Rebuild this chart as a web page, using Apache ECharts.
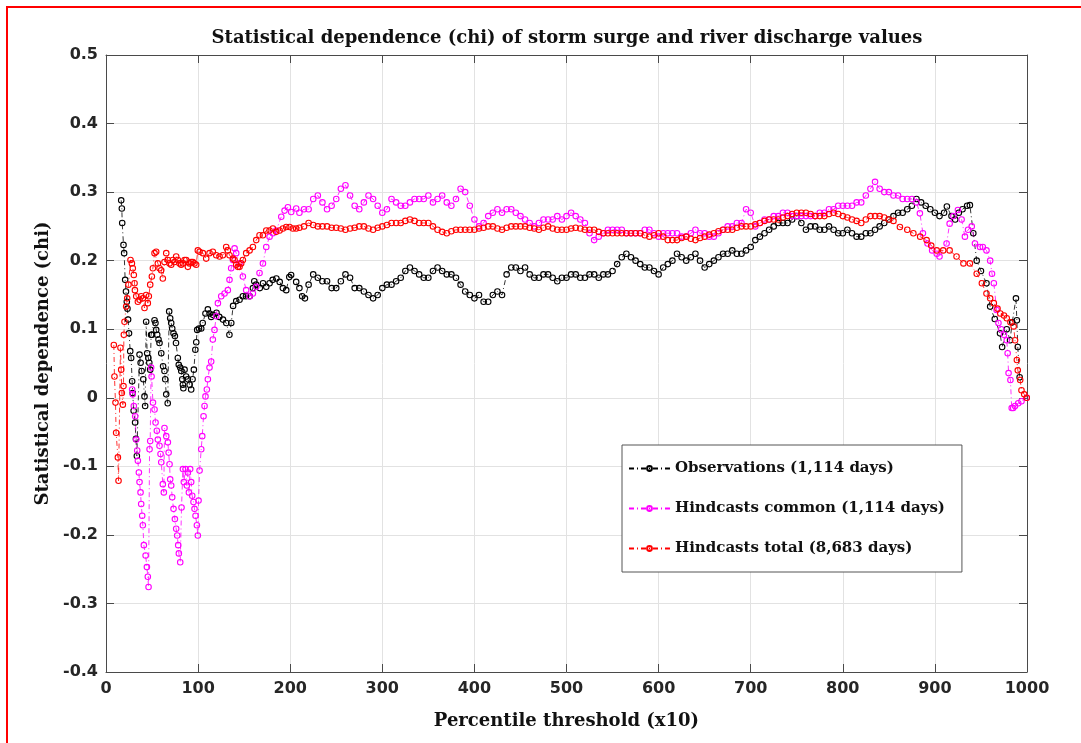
<!DOCTYPE html>
<html>
<head>
<meta charset="utf-8">
<title>Statistical dependence (chi)</title>
<script src="https://cdn.jsdelivr.net/npm/echarts@6/dist/echarts.min.js"></script>
<style>
  html, body { margin: 0; padding: 0; background: #fff; }
  #chart { width: 1081px; height: 743px; }
</style>
</head>
<body>
<div id="chart"></div>
<script>
// Percentile threshold (x10) vs chi, one [x, chi] pair per point
const observations = [
  [16.5,.288],[17.2,.276],[17.6,.255],[19,.223],[19.7,.211],[20.8,.172],[21.7,.155],[22.6,.14],[23.3,.13],[24,.114],
  [25,.094],[26.3,.068],[27.3,.058],[28.4,.024],[29,.007],[30,-.019],[31.6,-.036],[32.5,-.06],[33.5,-.085],[36.4,.063],
  [37.6,.051],[38.7,.039],[40.5,.027],[41.8,.002],[42.5,-.012],[43.6,.111],[44.7,.065],[46,.058],[47,.051],[48,.041],
  [49,.092],[50,.092],[52.7,.113],[53.7,.109],[54.5,.099],[55.6,.092],[57,.085],[58.1,.08],[60,.065],[62,.046],
  [63.5,.039],[64.3,.027],[65.4,.005],[67,-.008],[68.6,.126],[69.7,.116],[70.8,.109],[71.9,.101],[73.3,.094],[74.8,.09],
  [76,.08],[78,.058],[79,.048],[80.6,.044],[81.7,.039],[82.8,.027],[83.5,.019],[84,.014],[85.3,.041],[87,.031],
  [89,.027],[90.8,.019],[92.5,.012],[94,.027],[95.4,.041],[97,.07],[98,.081],[99,.099],[101,.101],[103.4,.101],
  [105,.109],[108,.123],[110.6,.129],[112.4,.123],[114.2,.118],[116,.121],[120,.124],[123,.118],[127,.114],[130.6,.109],
  [134,.092],[136,.109],[138,.134],[141.4,.141],[145,.143],[148.6,.148],[152,.148],[156,.148],[159.5,.16],[161,.17],
  [163,.165],[167,.16],[170.5,.167],[174,.162],[177.6,.167],[181,.172],[185,.174],[188.6,.169],[192,.16],[195.7,.157],
  [199,.176],[201,.179],[206.5,.169],[210,.16],[213,.148],[216,.145],[220,.165],[225,.18],[230,.175],[235,.17],
  [240,.17],[245,.16],[250,.16],[255,.17],[260,.18],[265,.175],[270,.16],[275,.16],[280,.155],[285,.15],
  [290,.145],[295,.15],[300,.16],[305,.165],[310,.165],[315,.17],[320,.175],[325,.185],[330,.19],[335,.185],
  [340,.18],[345,.175],[350,.175],[355,.185],[360,.19],[365,.185],[370,.18],[375,.18],[380,.175],[385,.165],
  [390,.155],[395,.15],[400,.145],[405,.15],[410,.14],[415,.14],[420,.15],[425,.155],[430,.15],[435,.18],
  [440,.19],[445,.19],[450,.185],[455,.19],[460,.18],[465,.175],[470,.175],[475,.18],[480,.18],[485,.175],
  [490,.17],[495,.175],[500,.175],[505,.18],[510,.18],[515,.175],[520,.175],[525,.18],[530,.18],[535,.175],
  [540,.18],[545,.18],[550,.185],[555,.195],[560,.205],[565,.21],[570,.205],[575,.2],[580,.195],[585,.19],
  [590,.19],[595,.185],[600,.18],[605,.19],[610,.195],[615,.2],[620,.21],[625,.205],[630,.2],[635,.205],
  [640,.21],[645,.2],[650,.19],[655,.195],[660,.2],[665,.205],[670,.21],[675,.21],[680,.215],[685,.21],
  [690,.21],[695,.215],[700,.22],[705,.23],[710,.235],[715,.24],[720,.245],[725,.25],[730,.255],[735,.255],
  [740,.255],[745,.26],[750,.265],[755,.255],[760,.245],[765,.25],[770,.25],[775,.245],[780,.245],[785,.25],
  [790,.245],[795,.24],[800,.24],[805,.245],[810,.24],[815,.235],[820,.235],[825,.24],[830,.24],[835,.245],
  [840,.25],[845,.255],[850,.26],[855,.265],[860,.27],[865,.27],[870,.275],[875,.28],[880,.29],[885,.285],
  [890,.28],[895,.275],[900,.27],[905,.265],[910,.27],[913,.279],[918,.265],[922,.26],[926,.27],[930,.275],
  [935,.28],[938,.281],[941.7,.24],[945.4,.2],[950,.185],[956,.167],[960,.133],[965,.115],[970.7,.094],[973,.074],
  [978,.1],[981.6,.084],[984,.11],[988,.145],[989,.113],[990,.074],[992,.03]
];

const hindcastsCommon = [
  [28.4,.012],[29,.005],[30.2,-.012],[31.7,-.027],[32.8,-.061],[33.9,-.077],[34.6,-.092],[35.7,-.109],[36.4,-.123],[37.5,-.138],
  [38.2,-.155],[39.3,-.172],[40,-.186],[41.1,-.215],[43,-.23],[44.4,-.247],[45.4,-.261],[46.2,-.276],[47.3,-.075],[48,-.063],
  [49,.044],[49.5,.031],[51,-.007],[52.7,-.017],[53.8,-.036],[55.2,-.048],[56.3,-.061],[58.1,-.07],[59.2,-.082],[60,-.094],
  [61.7,-.126],[62.8,-.138],[63.5,-.044],[65.4,-.056],[67.2,-.065],[68,-.08],[69,-.097],[69.7,-.119],[70.8,-.128],[71.9,-.145],
  [73.3,-.162],[74.8,-.177],[76.2,-.191],[77.3,-.201],[78.4,-.215],[79.1,-.227],[80.6,-.24],[82,-.16],[83.5,-.104],[84.5,-.123],
  [86.4,-.104],[87.8,-.128],[88.9,-.109],[90,-.138],[91.4,-.104],[92.5,-.123],[93.6,-.143],[95,-.152],[96.1,-.162],[97.2,-.172],
  [98.7,-.186],[99.7,-.201],[100.5,-.15],[101.6,-.106],[103.4,-.075],[104.5,-.056],[105.9,-.027],[107,-.012],[108,.002],[109.5,.012],
  [110.6,.027],[112.4,.044],[114.2,.053],[116,.085],[117.8,.099],[119.7,.119],[121.5,.138],[125.1,.148],[128.7,.152],[132.3,.157],
  [134.1,.172],[135.9,.189],[137.8,.201],[139.6,.218],[141.4,.211],[145,.196],[148.6,.177],[152.2,.157],[155.9,.148],[159.5,.152],
  [163.1,.162],[166.7,.182],[170.4,.196],[174,.22],[177.6,.235],[181.2,.24],[184.8,.244],[190.3,.264],[193.9,.273],[197.5,.278],
  [201.1,.271],[206.5,.276],[210,.27],[215,.275],[220,.275],[225,.29],[230,.295],[235,.285],[240,.275],[245,.28],
  [250,.29],[255,.305],[260,.31],[265,.295],[270,.28],[275,.275],[280,.285],[285,.295],[290,.29],[295,.28],
  [300,.27],[305,.275],[310,.29],[315,.285],[320,.28],[325,.28],[330,.285],[335,.29],[340,.29],[345,.29],
  [350,.295],[355,.285],[360,.29],[365,.295],[370,.285],[375,.28],[380,.29],[385,.305],[390,.3],[395,.28],
  [400,.26],[405,.25],[410,.255],[415,.265],[420,.27],[425,.275],[430,.27],[435,.275],[440,.275],[445,.27],
  [450,.265],[455,.26],[460,.255],[465,.25],[470,.255],[475,.26],[480,.26],[485,.26],[490,.265],[495,.26],
  [500,.265],[505,.27],[510,.265],[515,.26],[520,.255],[525,.24],[530,.23],[535,.235],[540,.24],[545,.245],
  [550,.245],[555,.245],[560,.245],[565,.24],[570,.24],[575,.24],[580,.24],[585,.245],[590,.245],[595,.24],
  [600,.235],[605,.24],[610,.24],[615,.24],[620,.24],[625,.235],[630,.235],[635,.24],[640,.245],[645,.24],
  [650,.24],[655,.235],[660,.235],[665,.24],[670,.245],[675,.25],[680,.25],[685,.255],[690,.255],[695,.275],
  [700,.27],[705,.25],[710,.255],[715,.26],[720,.26],[725,.265],[730,.265],[735,.27],[740,.27],[745,.265],
  [750,.265],[755,.265],[760,.265],[765,.265],[770,.265],[775,.27],[780,.27],[785,.275],[790,.275],[795,.28],
  [800,.28],[805,.28],[810,.28],[815,.285],[820,.285],[825,.295],[830,.305],[835,.315],[840,.305],[845,.3],
  [850,.3],[855,.295],[860,.295],[865,.29],[870,.29],[875,.29],[880,.285],[883.7,.269],[887,.24],[892,.225],
  [897,.215],[902,.21],[905,.206],[912.7,.225],[916,.254],[920,.265],[925,.274],[929,.26],[932.6,.235],[936,.245],
  [940,.25],[943.5,.225],[949,.22],[952,.22],[956,.215],[960,.2],[962,.181],[964,.167],[967,.128],[969,.109],
  [972,.1],[975,.092],[978,.084],[979,.065],[980,.036],[982,.026],[983.4,-.015],[985,-.015],[987,-.012],[990.5,-.008],
  [994,-.005],[999.7,0]
];

const hindcastsTotal = [
  [8.5,.077],[9.2,.031],[10.3,-.007],[11,-.051],[12.9,-.087],[13.6,-.121],[15.7,.073],[16.5,.041],[17.2,.007],[18.3,-.01],
  [19,.017],[19.4,.092],[20.1,.111],[21.9,.133],[23,.145],[24.4,.165],[26.6,.201],[28.1,.196],[29.1,.189],[30.2,.179],
  [31,.167],[31.4,.157],[32.8,.148],[34.6,.14],[36.4,.143],[38.2,.148],[40,.145],[41.8,.131],[43.6,.15],[45.4,.138],
  [46.5,.148],[48,.165],[49.8,.177],[50.9,.189],[52.7,.211],[54.5,.213],[56.3,.196],[58.1,.189],[59.9,.186],[61.7,.174],
  [63.5,.198],[65.4,.211],[67.2,.201],[69,.196],[70.8,.194],[72.6,.201],[74.4,.198],[76.2,.206],[78,.201],[79.8,.196],
  [81.6,.194],[83.5,.196],[85.3,.201],[87.1,.201],[88.9,.191],[90.7,.196],[92.5,.198],[94.3,.198],[96.1,.196],[97.9,.194],
  [99.7,.215],[101.6,.213],[105.2,.211],[108.8,.203],[112.4,.211],[116,.213],[119.7,.208],[123.3,.206],[126.9,.208],[130.5,.22],
  [132.3,.215],[134.1,.208],[137.8,.203],[139.6,.201],[141.4,.194],[143.2,.191],[145,.191],[146.8,.196],[148.6,.201],[152.2,.211],
  [155.9,.215],[159.5,.22],[163.1,.23],[166.7,.237],[170.4,.237],[174,.244],[177.6,.244],[181.2,.247],[184.8,.242],[188.5,.244],
  [192.1,.247],[195.7,.249],[199.3,.249],[202.9,.247],[206.5,.247],[210,.248],[215,.25],[220,.255],[225,.252],[230,.25],
  [235,.25],[240,.25],[245,.248],[250,.248],[255,.247],[260,.245],[265,.247],[270,.248],[275,.25],[280,.25],
  [285,.247],[290,.245],[295,.248],[300,.25],[305,.252],[310,.255],[315,.255],[320,.255],[325,.258],[330,.26],
  [335,.258],[340,.255],[345,.255],[350,.255],[355,.25],[360,.245],[365,.242],[370,.24],[375,.243],[380,.245],
  [385,.245],[390,.245],[395,.245],[400,.245],[405,.247],[410,.248],[415,.25],[420,.25],[425,.247],[430,.245],
  [435,.248],[440,.25],[445,.25],[450,.25],[455,.25],[460,.248],[465,.247],[470,.245],[475,.248],[480,.25],
  [485,.247],[490,.245],[495,.245],[500,.245],[505,.247],[510,.248],[515,.247],[520,.245],[525,.245],[530,.245],
  [535,.242],[540,.24],[545,.24],[550,.24],[555,.24],[560,.24],[565,.24],[570,.24],[575,.24],[580,.24],
  [585,.237],[590,.235],[595,.237],[600,.24],[605,.235],[610,.23],[615,.23],[620,.23],[625,.233],[630,.235],
  [635,.232],[640,.23],[645,.233],[650,.235],[655,.238],[660,.24],[665,.243],[670,.245],[675,.245],[680,.245],
  [685,.248],[690,.25],[695,.25],[700,.25],[705,.253],[710,.255],[715,.258],[720,.26],[725,.26],[730,.26],
  [735,.263],[740,.265],[745,.268],[750,.27],[755,.27],[760,.27],[765,.268],[770,.265],[775,.265],[780,.265],
  [785,.268],[790,.27],[795,.268],[800,.265],[805,.263],[810,.26],[815,.258],[820,.255],[825,.26],[830,.265],
  [835,.265],[840,.265],[845,.263],[850,.26],[855,.258],[862,.249],[870,.245],[876.6,.24],[884,.235],[891,.23],
  [896,.222],[902,.215],[909,.215],[916,.215],[923.5,.206],[931,.196],[938,.196],[945.4,.181],[951,.167],[956,.152],
  [960,.145],[964,.138],[968,.13],[971,.123],[975,.12],[978,.116],[982,.11],[985.5,.104],[987,.084],[989,.055],
  [990,.04],[992.6,.026],[994,.011],[997,.005],[999.7,0]
];

const seriesNames = ['Observations (1,114 days)', 'Hindcasts common (1,114 days)', 'Hindcasts total (8,683 days)'];
const seriesColors = ['#000000', '#ff00ff', '#ff0000'];
const seriesData = [observations, hindcastsCommon, hindcastsTotal];

const AXIS_COLOR = '#4a4a4a';
const LABEL_FONT = { fontFamily: 'DejaVu Sans', fontWeight: 'bold', fontSize: 16, color: '#262626' };
const NAME_FONT = { fontFamily: 'DejaVu Serif', fontWeight: 'bold', fontSize: 18, color: '#111' };

function xAxisDef(pos, main) {
  return {
    type: 'value', position: pos, min: 0, max: 1000, interval: 100,
    axisLine: { show: true, onZero: false, lineStyle: { color: AXIS_COLOR, width: 1 } },
    axisTick: { show: true, inside: true, length: 8, lineStyle: { color: AXIS_COLOR } },
    axisLabel: main ? Object.assign({ margin: 9, formatter: v => String(v) }, LABEL_FONT) : { show: false },
    splitLine: { show: main, lineStyle: { color: '#e2e2e2', width: 1 } },
    name: main ? 'Percentile threshold (x10)' : '',
    nameLocation: 'middle', nameGap: 40, nameTextStyle: NAME_FONT
  };
}
function yAxisDef(pos, main) {
  return {
    type: 'value', position: pos, min: -0.4, max: 0.5, interval: 0.1,
    axisLine: { show: true, onZero: false, lineStyle: { color: AXIS_COLOR, width: 1 } },
    axisTick: { show: true, inside: true, length: 8, lineStyle: { color: AXIS_COLOR } },
    axisLabel: main ? Object.assign({ margin: 8 }, LABEL_FONT) : { show: false },
    splitLine: { show: main, lineStyle: { color: '#e2e2e2', width: 1 } },
    name: main ? 'Statistical dependence (chi)' : '',
    nameLocation: 'middle', nameGap: 52, nameRotate: 90, nameTextStyle: NAME_FONT
  };
}

const chart = echarts.init(document.getElementById('chart'), null, { renderer: 'canvas' });
chart.setOption({
  animation: false,
  backgroundColor: '#fff',
  grid: { left: 106, top: 55, right: 54, bottom: 71 },
  xAxis: [xAxisDef('bottom', true), xAxisDef('top', false)],
  yAxis: [yAxisDef('left', true), yAxisDef('right', false)],
  graphic: [
    { type: 'rect', z: 100, silent: true,
      shape: { x: 7, y: 7, width: 1200, height: 1000 },
      style: { fill: 'none', stroke: '#ff0000', lineWidth: 2 } },
    { type: 'text', x: 567, y: 38, silent: true,
      style: { text: 'Statistical dependence (chi) of storm surge and river discharge values',
               font: 'bold 18px "DejaVu Serif"', fill: '#111', align: 'center', verticalAlign: 'middle' } }
  ],
  legend: {
    orient: 'vertical', left: 622, top: 445,
    padding: [16, 17, 16, 6], itemGap: 25, itemWidth: 41, itemHeight: 6,
    backgroundColor: '#fff', borderColor: '#555', borderWidth: 1,
    textStyle: { fontFamily: 'DejaVu Serif', fontWeight: 'bold', fontSize: 15, color: '#111', lineHeight: 15 },
    data: seriesNames
  },
  series: seriesData.map((d, i) => ({
    name: seriesNames[i],
    type: 'line',
    data: d,
    symbol: 'circle',
    symbolSize: 5.5,
    showSymbol: true,
    itemStyle: { color: 'rgba(255,255,255,0)', borderColor: seriesColors[i], borderWidth: 1.1 },
    lineStyle: { color: seriesColors[i], width: 0.8, type: [5, 3, 1, 3] },
    emphasis: { disabled: true }
  }))
});
</script>
</body>
</html>
